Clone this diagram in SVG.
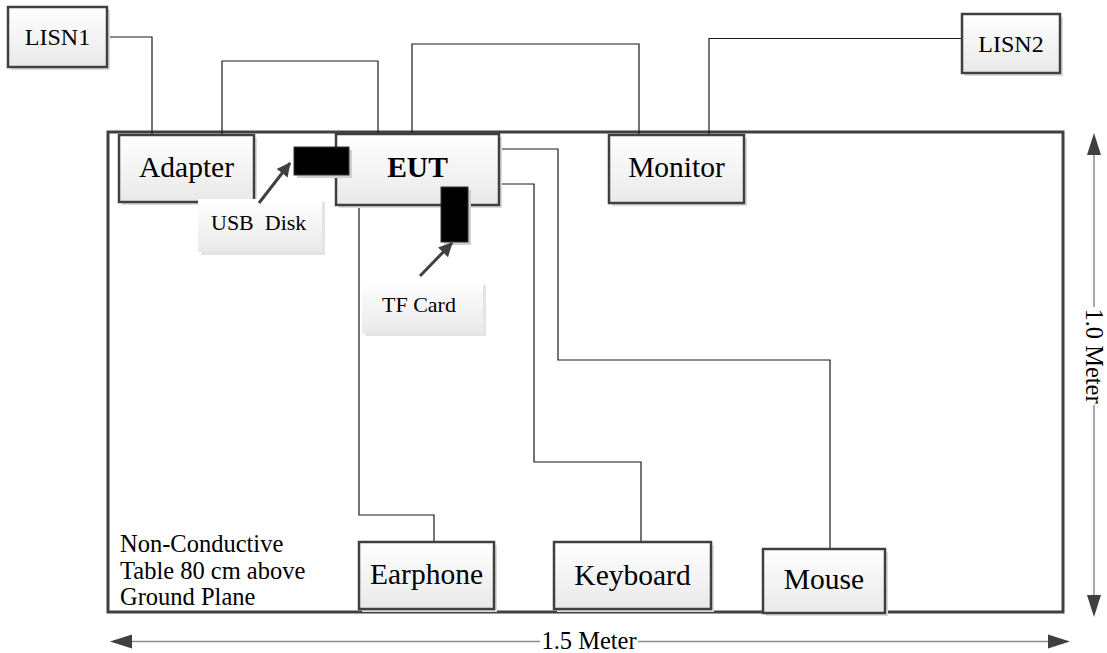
<svg xmlns="http://www.w3.org/2000/svg" width="1107" height="653" viewBox="0 0 1107 653" font-family="'Liberation Serif', 'Times New Roman', 'DejaVu Serif', serif">
<defs>
<linearGradient id="g" x1="0" y1="0" x2="0" y2="1">
<stop offset="0" stop-color="#ffffff"/>
<stop offset="1" stop-color="#e9e9e9"/>
</linearGradient>
<marker id="ah2" viewBox="0 0 14 14" refX="13" refY="7" markerWidth="14" markerHeight="14" markerUnits="userSpaceOnUse" orient="auto">
<path d="M0,0 L14,7 L0,14 Z" fill="#404040"/>
</marker>
</defs>
<style>
.box{fill:url(#g);stroke:#404040;stroke-width:2.5}
.sh{fill:#dcdcdc}
text{font-family:'Liberation Serif','Times New Roman','DejaVu Serif',serif;fill:#000}
.n{font-size:29.5px;text-anchor:middle}
.l{font-size:24px;text-anchor:middle}
.s{font-size:22px}
.c{fill:none;stroke:#1a1a1a;stroke-width:1.2}
.dim{fill:none;stroke:#8c8c8c;stroke-width:1.5}
.head{fill:#404040}
.blk{fill:#000;stroke:#333;stroke-width:1}
</style>
<rect width="1107" height="653" fill="#fff"/>
<g id="table">
<rect x="108" y="132" width="955" height="480" fill="none" stroke="#404040" stroke-width="3"/>
<text x="120" y="552" font-size="24.5">Non-Conductive</text>
<text x="120" y="579" font-size="24.5">Table 80 cm above</text>
<text x="120" y="605" font-size="24.5">Ground Plane</text>
</g>
<g id="connectors">
<path class="c" d="M107,37 H152 V134"/>
<path class="c" d="M222,134 V61 H378 V134"/>
<path class="c" d="M412,134 V44 H639 V135"/>
<path class="c" d="M709,135 V38.5 H962"/>
<path class="c" d="M499,149 H558 V360 H830 V549"/>
<path class="c" d="M499,184 H534 V462 H641 V542"/>
<path class="c" d="M359,205 V515 H434 V542"/>
</g>
<g id="lisn1"><rect class="sh" x="11" y="10" width="99" height="60"/><rect class="box" x="8" y="7" width="99" height="60"/><text class="l" x="57.5" y="45">LISN1</text></g>
<g id="lisn2"><rect class="sh" x="965" y="17" width="98" height="59"/><rect class="box" x="962" y="14" width="98" height="59"/><text class="l" x="1011" y="52">LISN2</text></g>
<g id="adapter"><rect class="sh" x="122" y="138" width="135" height="67"/><rect class="box" x="119" y="135" width="135" height="67"/><text class="n" x="186.5" y="177">Adapter</text></g>
<g id="eut"><rect class="sh" x="339" y="137" width="163" height="71"/><rect class="box" x="336" y="134" width="163" height="71"/><text class="n" x="417.5" y="177" font-weight="bold">EUT</text></g>
<g id="monitor"><rect class="sh" x="612" y="138" width="135" height="68"/><rect class="box" x="609" y="135" width="135" height="68"/><text class="n" x="676.5" y="177">Monitor</text></g>
<g id="earphone"><rect class="sh" x="362" y="545" width="135" height="67"/><rect class="box" x="359" y="542" width="135" height="67"/><text class="n" x="426.5" y="584">Earphone</text></g>
<g id="keyboard"><rect class="sh" x="557" y="545" width="157" height="67"/><rect class="box" x="554" y="542" width="157" height="67"/><text class="n" x="632.5" y="585">Keyboard</text></g>
<g id="mouse"><rect class="sh" x="766" y="552" width="122" height="64"/><rect class="box" x="763" y="549" width="122" height="64"/><text class="n" x="824" y="589">Mouse</text></g>
<g id="usb">
<rect x="297" y="150" width="55" height="28" fill="#cfcfcf"/>
<rect class="blk" x="294" y="147" width="55" height="28"/>
<rect x="201" y="202" width="124" height="53" fill="#e4e4e4"/>
<rect x="198" y="199" width="124" height="53" fill="url(#g)"/>
<text class="s" x="211" y="230" xml:space="preserve">USB  Disk</text>
<path d="M259,203 L290,163" stroke="#404040" stroke-width="3" fill="none" marker-end="url(#ah2)"/>
</g>
<g id="tfcard">
<rect x="444" y="190" width="27" height="55" fill="#cfcfcf"/>
<rect class="blk" x="441" y="187" width="27" height="55"/>
<rect x="365" y="285" width="121" height="51" fill="#e4e4e4"/>
<rect x="362" y="282" width="121" height="51" fill="url(#g)"/>
<text class="s" x="382" y="312">TF Card</text>
<path d="M420,276 L452,243" stroke="#404040" stroke-width="3" fill="none" marker-end="url(#ah2)"/>
</g>
<g id="dim-h">
<path class="dim" d="M128,641.5 H540"/>
<path class="dim" d="M638,641.5 H1052"/>
<path class="head" d="M132,634.5 L110,641.5 L132,648.5 Z"/>
<path class="head" d="M1048,634.5 L1070,641.5 L1048,648.5 Z"/>
<text x="589" y="649" font-size="24.5" text-anchor="middle">1.5 Meter</text>
</g>
<g id="dim-v">
<path class="dim" d="M1094,150 V307"/>
<path class="dim" d="M1094,405 V600"/>
<path class="head" d="M1087,155 L1094,133 L1101,155 Z"/>
<path class="head" d="M1087,595 L1094,617 L1101,595 Z"/>
<text x="0" y="0" font-size="24.5" text-anchor="middle" transform="translate(1086,356) rotate(90)">1.0 Meter</text>
</g>
</svg>
